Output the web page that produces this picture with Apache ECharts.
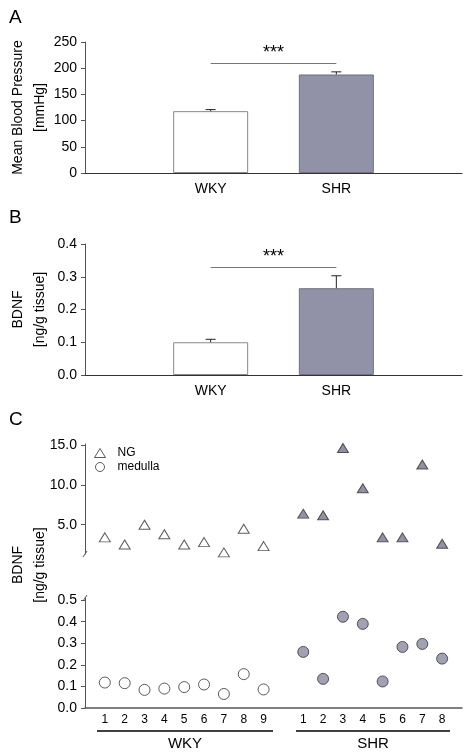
<!DOCTYPE html>
<html>
<head>
<meta charset="utf-8">
<script src="https://cdn.jsdelivr.net/npm/echarts@6/dist/echarts.min.js"></script>
<style>html,body{margin:0;padding:0;background:#fff;}#c{width:470px;height:756px;}</style>
</head>
<body>
<div id="c"></div>
<script>
// ---- Data ----
const barCategories = ['', 'WKY', 'SHR', ''];
const groups = ['WKY', 'SHR'];
const mbpMean = [118, 188];
const mbpErr = [3, 5];
const bdnfMean = [0.100, 0.265];
const bdnfErr = [0.009, 0.038];
const sigLevel = [210, 0.33];
const sigText = '***';

const wkyNG = [3.4, 2.5, 5.0, 3.8, 2.5, 2.8, 1.5, 4.5, 2.3];
const shrNG = [6.4, 6.2, 14.7, 9.6, 3.4, 3.4, 12.6, 2.6];
const wkyMed = [0.118, 0.115, 0.084, 0.090, 0.097, 0.109, 0.065, 0.157, 0.086];
const shrMed = [0.260, 0.135, 0.423, 0.390, 0.123, 0.283, 0.297, 0.229];
const animalLabels = ['', '1','2','3','4','5','6','7','8','9', '', '1','2','3','4','5','6','7','8', ''];
const ngTicks = [5, 10, 15];
const medTicks = [0, 0.1, 0.2, 0.3, 0.4, 0.5];

// ---- Styles ----
const FONT = 'Liberation Sans, Arial, sans-serif';
const AX = '#555555';
const SHR_FILL = '#9191a8';
const txt = {color: '#000', fontFamily: FONT, fontSize: 14};

const wkyX = wkyNG.map((_, i) => i + 1);
const shrX = shrNG.map((_, i) => i + 11);

function errSeries(xi, yi, means, errs) {
  return {
    type: 'custom', xAxisIndex: xi, yAxisIndex: yi, z: 5,
    data: groups.map((g, i) => [g, means[i], errs[i]]),
    renderItem: function (params, api) {
      const x = api.value(0);
      const b = api.coord([x, api.value(1)]);
      const t = api.coord([x, api.value(1) + api.value(2)]);
      return {type: 'group', children: [
        {type: 'line', shape: {x1: b[0], y1: b[1], x2: t[0], y2: t[1]}, style: {stroke: '#222', lineWidth: 1}},
        {type: 'line', shape: {x1: t[0] - 5, y1: t[1], x2: t[0] + 5, y2: t[1]}, style: {stroke: '#222', lineWidth: 1}}
      ]};
    }
  };
}

function barSeries(xi, yi, means, sig) {
  return {
    type: 'bar', xAxisIndex: xi, yAxisIndex: yi, barWidth: 75,
    data: groups.map((g, i) => ({
      value: [g, means[i]],
      itemStyle: i === 0 ? {color: '#ffffff', borderColor: '#888', borderWidth: 1}
                         : {color: SHR_FILL, borderColor: '#707080', borderWidth: 1}
    })),
    markLine: {
      silent: true, symbol: 'none',
      lineStyle: {color: '#777', width: 1, type: 'solid'},
      label: {show: true, position: 'middle', formatter: sigText, color: '#000', fontFamily: FONT, fontSize: 18, distance: 1},
      data: [[{coord: [groups[0], sig]}, {coord: [groups[1], sig]}]]
    }
  };
}

const yBase = {
  type: 'value', splitLine: {show: false},
  axisLine: {show: true, lineStyle: {color: AX, width: 1}},
  axisTick: {show: true, inside: false, length: 4, lineStyle: {color: AX}},
  axisLabel: Object.assign({margin: 8}, txt),
  nameLocation: 'middle', nameRotate: 90, nameMoveOverlap: false,
  nameTextStyle: Object.assign({lineHeight: 22}, txt)
};
const xCat = {
  type: 'category', data: barCategories, boundaryGap: false,
  axisLine: {show: true, lineStyle: {color: '#333', width: 1}},
  axisTick: {show: false}, splitLine: {show: false},
  axisLabel: Object.assign({margin: 9, interval: 0}, txt)
};
const xIdx = {
  type: 'value', min: 0, max: 19, interval: 1, splitLine: {show: false},
  axisTick: {show: false}
};

const gridBase = {left: 85, right: 8, containLabel: false, outerBoundsMode: 'none'};

const option = {
  animation: false,
  backgroundColor: '#fff',
  grid: [
    Object.assign({top: 42, height: 131}, gridBase),
    Object.assign({top: 244, height: 131}, gridBase),
    Object.assign({top: 444, height: 110}, gridBase),
    Object.assign({top: 598, height: 110}, gridBase)
  ],
  xAxis: [
    Object.assign({gridIndex: 0}, xCat),
    Object.assign({gridIndex: 1}, xCat),
    Object.assign({gridIndex: 2, show: false}, xIdx),
    Object.assign({gridIndex: 3,
      axisLine: {show: true, lineStyle: {color: AX, width: 1.5}},
      axisLabel: {margin: 6, color: '#000', fontFamily: FONT, fontSize: 12, formatter: v => animalLabels[v] || ''}}, xIdx)
  ],
  yAxis: [
    Object.assign({}, yBase, {gridIndex: 0, min: 0, max: 250, interval: 50,
      name: 'Mean Blood Pressure\n[mmHg]', nameGap: 34}),
    Object.assign({}, yBase, {gridIndex: 1, min: 0, max: 0.4, interval: 0.1,
      axisLabel: Object.assign({margin: 8, formatter: v => v.toFixed(1)}, txt),
      name: 'BDNF\n[ng/g tissue]', nameGap: 34}),
    Object.assign({}, yBase, {gridIndex: 2, min: 1.3, max: 15.2,
      axisLabel: Object.assign({margin: 8, customValues: ngTicks, formatter: v => v.toFixed(1)}, txt),
      axisTick: {show: true, length: 4, customValues: ngTicks, lineStyle: {color: AX}}}),
    Object.assign({}, yBase, {gridIndex: 3, min: 0, max: 0.51,
      axisLabel: Object.assign({margin: 8, customValues: medTicks, formatter: v => v.toFixed(1)}, txt),
      axisTick: {show: true, length: 4, customValues: medTicks, lineStyle: {color: AX}}})
  ],
  legend: {
    left: 89, top: 442, orient: 'vertical', itemGap: 2, itemWidth: 11, itemHeight: 9,
    textStyle: {color: '#000', fontFamily: FONT, fontSize: 12, padding: [0, 0, 0, 7]},
    data: [
      {name: 'NG', icon: 'triangle', itemStyle: {color: '#fff', borderColor: '#333', borderWidth: 1}},
      {name: 'medulla', icon: 'circle', itemStyle: {color: '#fff', borderColor: '#333', borderWidth: 1}}
    ]
  },
  series: [
    barSeries(0, 0, mbpMean, sigLevel[0]),
    errSeries(0, 0, mbpMean, mbpErr),
    barSeries(1, 1, bdnfMean, sigLevel[1]),
    errSeries(1, 1, bdnfMean, bdnfErr),
    {name: 'NG', type: 'scatter', xAxisIndex: 2, yAxisIndex: 2, symbol: 'triangle', symbolSize: [11, 9],
      itemStyle: {color: '#fff', borderColor: '#333', borderWidth: 1},
      data: wkyNG.map((v, i) => [wkyX[i], v])},
    {name: 'NG SHR', type: 'scatter', xAxisIndex: 2, yAxisIndex: 2, symbol: 'triangle', symbolSize: [11, 9],
      itemStyle: {color: '#76768c', borderColor: '#333', borderWidth: 1},
      data: shrNG.map((v, i) => [shrX[i], v])},
    {name: 'medulla', type: 'scatter', xAxisIndex: 3, yAxisIndex: 3, symbol: 'circle', symbolSize: 11,
      itemStyle: {color: '#fff', borderColor: '#333', borderWidth: 1},
      data: wkyMed.map((v, i) => [wkyX[i], v])},
    {name: 'medulla SHR', type: 'scatter', xAxisIndex: 3, yAxisIndex: 3, symbol: 'circle', symbolSize: 11,
      itemStyle: {color: '#8a8aa0', borderColor: '#333', borderWidth: 1},
      data: shrMed.map((v, i) => [shrX[i], v])}
  ],
  graphic: [
    {type: 'text', left: 9, top: 8, style: {text: 'A', fill: '#000', font: '19px ' + FONT}},
    {type: 'text', left: 9, top: 208, style: {text: 'B', fill: '#000', font: '19px ' + FONT}},
    {type: 'text', left: 9, top: 410, style: {text: 'C', fill: '#000', font: '19px ' + FONT}},
    {type: 'text', x: 29, y: 565, rotation: Math.PI / 2,
      style: {text: 'BDNF\n[ng/g tissue]', fill: '#000', font: '14px ' + FONT, lineHeight: 22, align: 'center', verticalAlign: 'middle'}},
    // axis break marks
    {type: 'line', shape: {x1: 83, y1: 557, x2: 87, y2: 551}, style: {stroke: AX, lineWidth: 1}},
    {type: 'line', shape: {x1: 83, y1: 601, x2: 87, y2: 595}, style: {stroke: AX, lineWidth: 1}},
    // group underlines and labels
    {type: 'line', shape: {x1: 97, y1: 731, x2: 273, y2: 731}, style: {stroke: '#000', lineWidth: 1.5}},
    {type: 'line', shape: {x1: 296, y1: 731, x2: 450, y2: 731}, style: {stroke: '#000', lineWidth: 1.5}},
    {type: 'text', x: 185, y: 744, style: {text: 'WKY', fill: '#000', font: '15px ' + FONT, align: 'center', verticalAlign: 'middle'}},
    {type: 'text', x: 373, y: 744, style: {text: 'SHR', fill: '#000', font: '15px ' + FONT, align: 'center', verticalAlign: 'middle'}}
  ]
};

const chart = echarts.init(document.getElementById('c'), null, {renderer: 'canvas'});
chart.setOption(option);
</script>
</body>
</html>
